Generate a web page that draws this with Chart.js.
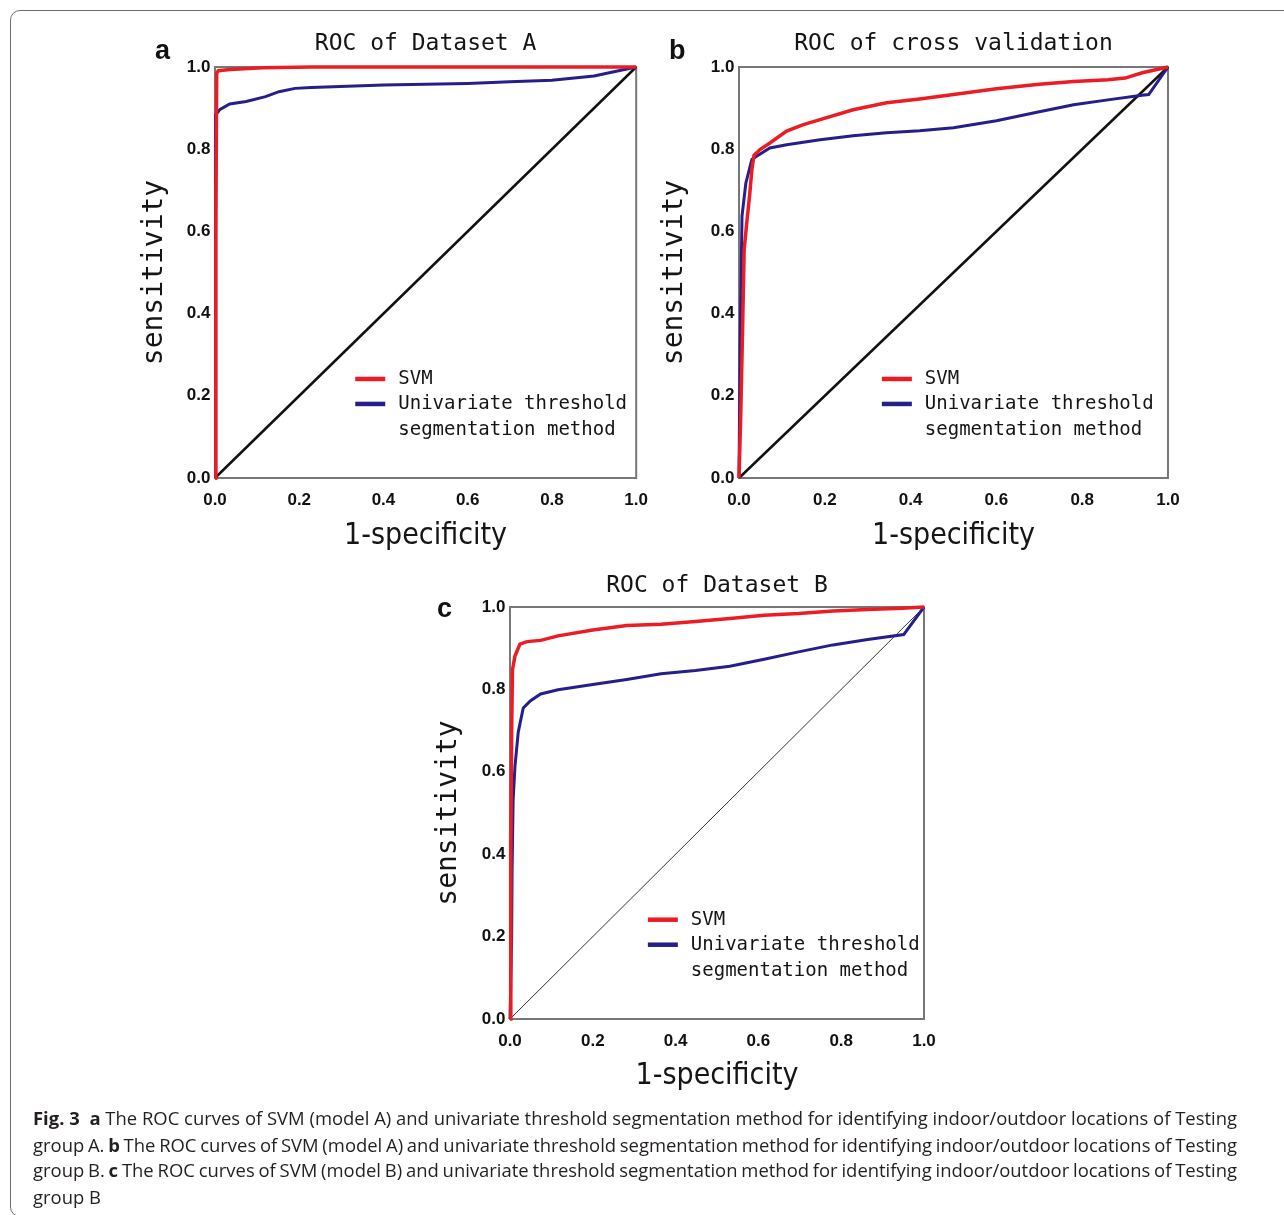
<!DOCTYPE html>
<html><head><meta charset="utf-8">
<script src="https://cdn.jsdelivr.net/npm/chart.js@4.4.1/dist/chart.umd.min.js"></script>
<style>
html,body{margin:0;padding:0;background:#fff;width:1284px;height:1215px;overflow:hidden;position:relative}
.frame{position:absolute;left:10px;top:10px;width:1320px;height:1207px;border:1.4px solid #6d6d6d;border-radius:10px;box-sizing:border-box}
canvas.cv{position:absolute}
.panel{position:absolute;font-family:'Liberation Sans',Arial,sans-serif;font-weight:bold;font-size:27px;color:#111;line-height:27px}
.cap{position:absolute;left:33px;width:1204px;height:26px;line-height:26px;font-family:'Open Sans',sans-serif;font-size:16.4px;color:#231f20;white-space:nowrap}
.cap b{font-weight:700}
</style></head>
<body>
<div class="frame"></div>
<canvas class="cv" id="cA" width="520" height="560" style="left:140px;top:15px"></canvas>
<canvas class="cv" id="cB" width="620" height="560" style="left:660px;top:15px"></canvas>
<canvas class="cv" id="cC" width="540" height="560" style="left:420px;top:555px"></canvas>
<div class="panel" style="left:155px;top:37px">a</div>
<div class="panel" style="left:669px;top:37px">b</div>
<div class="panel" style="left:437px;top:595px">c</div>
<div class="cap" id="l1" style="top:1105px"><b>Fig. 3</b>&nbsp; <b>a</b> The ROC curves of SVM (model A) and univariate threshold segmentation method for identifying indoor/outdoor locations of Testing</div>
<div class="cap" id="l2" style="top:1132px">group A. <b>b</b> The ROC curves of SVM (model A) and univariate threshold segmentation method for identifying indoor/outdoor locations of Testing</div>
<div class="cap" id="l3" style="top:1157px">group B. <b>c</b> The ROC curves of SVM (model B) and univariate threshold segmentation method for identifying indoor/outdoor locations of Testing</div>
<div class="cap" id="l4" style="top:1184px">group B</div>
<script>
// ---- data ----
const tickValues = [0, 0.2, 0.4, 0.6, 0.8, 1.0];
const chartTitles = ['ROC of Dataset A', 'ROC of cross validation', 'ROC of Dataset B'];
const xAxisTitle = '1-specificity';
const yAxisTitle = 'sensitivity';
const seriesNames = ['SVM', 'Univariate threshold segmentation method'];
const legendLines = [['SVM'], ['Univariate threshold', 'segmentation method']];

const diagX = [0, 1];
const diagY = [0, 1];

// Chart a: ROC of Dataset A
const aSvmX = [0, 0.002, 0.004, 0.008, 0.035, 0.113, 0.23, 1.0];
const aSvmY = [0, 0.6, 0.985, 0.991, 0.994, 0.998, 1.0, 1.0];
const aUniX = [0, 0.001, 0.002, 0.012, 0.035, 0.074, 0.12, 0.152, 0.19, 0.229, 0.4, 0.6, 0.7, 0.8, 0.9, 0.95, 1.0];
const aUniY = [0, 0.5, 0.883, 0.897, 0.910, 0.916, 0.928, 0.94, 0.948, 0.95, 0.956, 0.96, 0.964, 0.968, 0.978, 0.989, 1.0];

// Chart b: ROC of cross validation
const bSvmX = [0, 0.004, 0.009, 0.012, 0.018, 0.025, 0.03, 0.035, 0.049, 0.072, 0.111, 0.15, 0.189, 0.266, 0.344, 0.421, 0.5, 0.6, 0.7, 0.78, 0.86, 0.9, 0.94, 1.0];
const bSvmY = [0, 0.15, 0.393, 0.555, 0.62, 0.69, 0.75, 0.785, 0.799, 0.815, 0.844, 0.86, 0.872, 0.896, 0.913, 0.922, 0.933, 0.947, 0.958, 0.965, 0.969, 0.973, 0.986, 1.0];
const bUniX = [0, 0.003, 0.007, 0.016, 0.03, 0.041, 0.072, 0.111, 0.189, 0.266, 0.344, 0.421, 0.5, 0.6, 0.7, 0.78, 0.86, 0.939, 0.955, 1.0];
const bUniY = [0, 0.35, 0.637, 0.718, 0.775, 0.783, 0.803, 0.811, 0.823, 0.833, 0.84, 0.845, 0.852, 0.869, 0.891, 0.908, 0.92, 0.931, 0.933, 1.0];

// Chart c: ROC of Dataset B
const cSvmX = [0, 0.002, 0.004, 0.006, 0.012, 0.024, 0.041, 0.074, 0.116, 0.2, 0.282, 0.365, 0.448, 0.531, 0.614, 0.697, 0.78, 0.864, 0.947, 1.0];
const cSvmY = [0, 0.4, 0.7, 0.848, 0.881, 0.91, 0.916, 0.919, 0.93, 0.944, 0.955, 0.958, 0.965, 0.972, 0.98, 0.984, 0.99, 0.994, 0.997, 1.0];
const cUniX = [0, 0.004, 0.005, 0.0075, 0.012, 0.02, 0.032, 0.049, 0.074, 0.116, 0.2, 0.282, 0.365, 0.448, 0.531, 0.614, 0.697, 0.78, 0.864, 0.951, 1.0];
const cUniY = [0, 0.2, 0.36, 0.53, 0.613, 0.697, 0.755, 0.772, 0.789, 0.799, 0.812, 0.824, 0.838, 0.846, 0.856, 0.873, 0.891, 0.908, 0.921, 0.933, 1.0];

// ---- styling ----
const RED = '#ec1c24';
const BLUE = '#241f8a';
const TICK_FONT = {family: '"Liberation Sans", Arial, sans-serif', weight: 'bold', size: 17};
const pts = (xs, ys) => xs.map((x, i) => ({x: x, y: ys[i]}));

const framePlugin = {
  id: 'plotFrame',
  beforeDatasetsDraw(chart) {
    const {ctx, chartArea: a} = chart;
    ctx.save();
    ctx.strokeStyle = '#777';
    ctx.lineWidth = 2;
    ctx.strokeRect(a.left, a.top, a.right - a.left, a.bottom - a.top);
    ctx.restore();
  }
};
const legendPlugin = {
  id: 'insideLegend',
  afterDatasetsDraw(chart) {
    const {ctx, chartArea: a} = chart;
    const x0 = a.left + (a.right - a.left) * 0.333;
    const y0 = a.top + (a.bottom - a.top) * 0.759;
    const rows = [0, 25, 51];
    ctx.save();
    ctx.font = '19px "DejaVu Sans Mono", monospace';
    ctx.textBaseline = 'middle';
    ctx.textAlign = 'left';
    ctx.fillStyle = '#151515';
    let r = 0;
    chart.data.datasets.slice(0, 2).forEach((ds, i) => {
      const y = y0 + rows[r];
      ctx.strokeStyle = ds.borderColor;
      ctx.lineWidth = 4.5;
      ctx.beginPath(); ctx.moveTo(x0, y); ctx.lineTo(x0 + 30, y); ctx.stroke();
      legendLines[i].forEach(t => { ctx.fillText(t, x0 + 43, y0 + rows[r]); r++; });
    });
    ctx.restore();
  }
};

function makeChart(id, o) {
  new Chart(document.getElementById(id), {
    type: 'line',
    data: {
      datasets: [
        {label: seriesNames[0], data: pts(o.svmX, o.svmY), borderColor: RED, borderWidth: 3.5, pointRadius: 0, tension: 0, clip: false},
        {label: seriesNames[1], data: pts(o.uniX, o.uniY), borderColor: BLUE, borderWidth: 3, pointRadius: 0, tension: 0, clip: false},
        {label: 'chance', data: pts(diagX, diagY), borderColor: o.diagColor, borderWidth: o.diagWidth, pointRadius: 0, tension: 0, clip: false}
      ]
    },
    options: {
      responsive: false, maintainAspectRatio: false, animation: false, events: [],
      layout: {padding: {left: 0, top: 0, right: o.padRight, bottom: 0}},
      plugins: {
        legend: {display: false}, tooltip: {enabled: false},
        title: {display: true, text: o.title, fullSize: false, color: '#151515',
          font: {family: '"DejaVu Sans Mono", monospace', size: 23, weight: 'normal', lineHeight: 1.2},
          padding: {top: o.titleTop, bottom: 52 - 27.6 - o.titleTop}}
      },
      scales: {
        x: {type: 'linear', min: 0, max: 1,
          afterBuildTicks: s => { s.ticks = tickValues.map(v => ({value: v})); },
          afterFit: s => { s.height = o.xH; },
          grid: {display: false, drawTicks: false}, border: {display: false},
          ticks: {padding: 12, font: TICK_FONT, color: '#111', maxRotation: 0, autoSkip: false, callback: v => Number(v).toFixed(1)},
          title: {display: true, text: xAxisTitle, color: '#151515',
            font: {family: '"DejaVu Sans Condensed", sans-serif', size: 30, lineHeight: 1},
            padding: {top: 0, bottom: 24}}
        },
        y: {type: 'linear', min: 0, max: 1,
          afterBuildTicks: s => { s.ticks = tickValues.map(v => ({value: v})); },
          afterFit: s => { s.width = o.yW; },
          grid: {display: false, drawTicks: false}, border: {display: false},
          ticks: {padding: 4.5, font: TICK_FONT, color: '#111', autoSkip: false, callback: v => Number(v).toFixed(1)},
          title: {display: true, text: yAxisTitle, color: '#151515',
            font: {family: '"DejaVu Sans Mono", monospace', size: 28, lineHeight: 1},
            padding: {top: o.yTitlePad, bottom: 0}}
        }
      }
    },
    plugins: [framePlugin, legendPlugin]
  });
}

makeChart('cA', {svmX: aSvmX, svmY: aSvmY, uniX: aUniX, uniY: aUniY, title: chartTitles[0],
  diagColor: '#111', diagWidth: 2.5, padRight: 16, yW: 75, xH: 97, titleTop: 15.2, yTitlePad: 1});
makeChart('cB', {svmX: bSvmX, svmY: bSvmY, uniX: bUniX, uniY: bUniY, title: chartTitles[1],
  diagColor: '#111', diagWidth: 2.5, padRight: 112, yW: 79, xH: 97, titleTop: 15.2, yTitlePad: 1});
makeChart('cC', {svmX: cSvmX, svmY: cSvmY, uniX: cUniX, uniY: cUniY, title: chartTitles[2],
  diagColor: '#333', diagWidth: 1, padRight: 36, yW: 90, xH: 96, titleTop: 17, yTitlePad: 15});

// fit caption: size the font so the first line fills the measure, then justify the others
(function () {
  const target = 1204;
  const ids = ['l1', 'l2', 'l3', 'l4'];
  const width = el => { const r = document.createRange(); r.selectNodeContents(el); return r.getBoundingClientRect().width; };
  const first = document.getElementById('l1');
  const fs = 16.4 * target / width(first);
  ids.forEach(id => { document.getElementById(id).style.fontSize = fs + 'px'; });
  ['l1', 'l2', 'l3'].forEach(id => {
    const el = document.getElementById(id);
    const natural = width(el);
    const spaces = (el.textContent.match(/ /g) || []).length;
    el.style.wordSpacing = ((target - natural) / spaces) + 'px';
  });
})();
</script>
</body></html>
